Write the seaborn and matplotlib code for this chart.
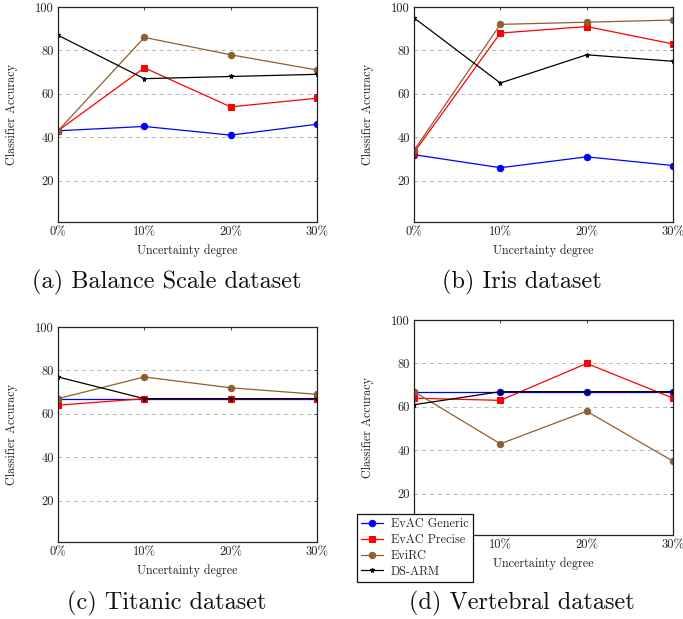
import numpy as np
import pandas as pd
import seaborn as sns
import matplotlib.pyplot as plt

# uncertainty levels on the x axis
levels = [0, 10, 20, 30]
level_labels = ["0%", "10%", "20%", "30%"]
y_ticks = [20, 40, 60, 80, 100]

methods = ["EvAC Generic", "EvAC Precise", "EviRC", "DS-ARM"]

# (a) Balance Scale
balance_generic = [43, 45, 41, 46]
balance_precise = [43, 72, 54, 58]
balance_evirc = [43, 86, 78, 71]
balance_dsarm = [87, 67, 68, 69]

# (b) Iris
iris_generic = [32, 26, 31, 27]
iris_precise = [33, 88, 91, 83]
iris_evirc = [34, 92, 93, 94]
iris_dsarm = [95, 65, 78, 75]

# (c) Titanic
titanic_generic = [67, 67, 67, 67]
titanic_precise = [64, 67, 67, 67]
titanic_evirc = [67, 77, 72, 69]
titanic_dsarm = [77, 67, 67, 67]

# (d) Vertebral
vertebral_generic = [67, 67, 67, 67]
vertebral_precise = [64, 63, 80, 64]
vertebral_evirc = [67, 43, 58, 35]
vertebral_dsarm = [61, 67, 67, 67]

captions = ["(a) Balance Scale dataset", "(b) Iris dataset",
            "(c) Titanic dataset", "(d) Vertebral dataset"]


def long_frame(generic, precise, evirc, dsarm):
    rows = []
    for name, vals in zip(methods, [generic, precise, evirc, dsarm]):
        for lv, v in zip(levels, vals):
            rows.append({"level": lv, "acc": v, "method": name})
    return pd.DataFrame(rows)


frames = [
    long_frame(balance_generic, balance_precise, balance_evirc, balance_dsarm),
    long_frame(iris_generic, iris_precise, iris_evirc, iris_dsarm),
    long_frame(titanic_generic, titanic_precise, titanic_evirc, titanic_dsarm),
    long_frame(vertebral_generic, vertebral_precise, vertebral_evirc, vertebral_dsarm),
]

sns.set_theme(style="white")
plt.rcParams["font.family"] = ["cmr10", "DejaVu Serif"]
plt.rcParams["mathtext.fontset"] = "cm"
plt.rcParams["axes.unicode_minus"] = False

colors = {"EvAC Generic": "#0000ff", "EvAC Precise": "#ff0000",
          "EviRC": "#8f5f30", "DS-ARM": "#000000"}
markers = {"EvAC Generic": "o", "EvAC Precise": "s", "EviRC": "o", "DS-ARM": "*"}
msizes = {"EvAC Generic": 4.6, "EvAC Precise": 4.4, "EviRC": 4.6, "DS-ARM": 3.6}

W, H = 683, 619
fig = plt.figure(figsize=(W / 100, H / 100), dpi=100)

# axes boxes in pixels: left, top, right, bottom
boxes = [(58, 7, 317, 222), (414, 7, 673, 222),
         (58, 327, 317, 542), (414, 320, 673, 535)]
caption_pos = [(167, 282), (522, 282), (167, 603), (522, 603)]

for i, (df, box) in enumerate(zip(frames, boxes)):
    l, t, r, b = box
    ax = fig.add_axes([l / W, 1 - b / H, (r - l) / W, (b - t) / H])
    for m in methods:
        sns.lineplot(data=df[df.method == m], x="level", y="acc", ax=ax,
                     color=colors[m], marker=markers[m], markersize=msizes[m],
                     markeredgecolor=colors[m], linewidth=0.9, label=m,
                     legend=False)
    ax.set_xlim(0, 30)
    ax.set_ylim(1, 100)
    ax.set_xticks(levels)
    ax.set_xticklabels(level_labels)
    ax.set_yticks(y_ticks)
    ax.yaxis.grid(True, linestyle=(0, (4, 4)), color="#b8b8b8", linewidth=0.7)
    ax.set_axisbelow(True)
    ax.tick_params(direction="in", length=2.5, width=0.6, top=True, right=True,
                   labelsize=9, pad=3, colors="#222222", labelcolor="#222222")
    for sp in ax.spines.values():
        sp.set_linewidth(0.9)
        sp.set_color("#222222")
    ax.set_xlabel("Uncertainty degree", fontsize=8.7, color="#222222")
    ax.set_ylabel("Classifier Accuracy", fontsize=8.7, color="#222222")
    ax.xaxis.set_label_coords(0.5, -0.105)
    ax.yaxis.set_label_coords(-0.154, 0.5)
    cx, cy = caption_pos[i]
    fig.text(cx / W, 1 - cy / H, captions[i], fontsize=17.5, ha="center",
             va="center", color="#111111")

handles, labels = ax.get_legend_handles_labels()
leg = fig.legend(handles, labels, loc="upper left",
                 bbox_to_anchor=(357 / W, 1 - 514 / H), borderaxespad=0,
                 fontsize=8.8, fancybox=False, framealpha=1, edgecolor="#111111",
                 handlelength=1.8, labelspacing=0.3, borderpad=0.35,
                 handletextpad=0.6)
leg.get_frame().set_linewidth(0.9)

fig.savefig("out.png", dpi=100)
